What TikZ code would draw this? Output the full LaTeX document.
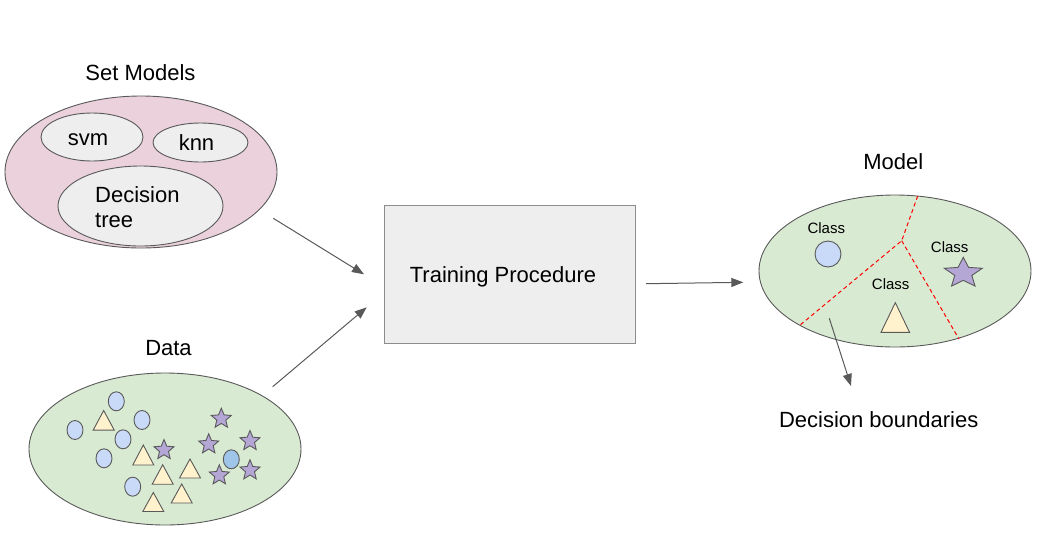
\documentclass[tikz,border=0pt]{standalone}
\usepackage{fontspec}
\setmainfont{Liberation Sans}
\usetikzlibrary{shapes.geometric,arrows.meta}
\definecolor{outl}{HTML}{595959}
\definecolor{pinkf}{HTML}{EAD1DC}
\definecolor{greenf}{HTML}{D9EAD3}
\definecolor{grayf}{HTML}{EEEEEE}
\definecolor{bluef}{HTML}{C9DAF8}
\definecolor{blued}{HTML}{9FC5E8}
\definecolor{yellowf}{HTML}{FFF2CC}
\definecolor{purplef}{HTML}{B4A7D6}
\definecolor{arrowc}{HTML}{595959}
\newcommand{\mytri}[4]{% x y halfwidth height (x,y = bbox center)
  \draw[tristyle] (#1,#2) ++(0,-#4/2) -- ++(#3,#4) -- ++(-2*#3,0) -- cycle;}
\newcommand{\mystar}[4]{% x y Rx Ry
  \draw[starstyle] plot[samples at={0,...,9}, variable=\k]
    ({#1+ifthenelse(mod(\k,2)==0,1,0.45)*#3*cos(90+36*\k)},
     {#2-ifthenelse(mod(\k,2)==0,1,0.45)*#4*sin(90+36*\k)}) -- cycle;}
\newcommand{\mycirc}[3]{\draw[circstyle,fill=#3] (#1,#2) ellipse [x radius=8, y radius=9.5];}
\begin{document}
\begin{tikzpicture}[x=1pt,y=-1pt,
  bigell/.style={ellipse, draw=outl, line width=0.9pt, inner sep=0pt},
  lbl/.style={font=\fontsize{22}{25}\selectfont, text=black, inner sep=0pt},
  blbl/.style={lbl, anchor=base},
  small/.style={font=\fontsize{15}{17}\selectfont, text=black, inner sep=0pt, anchor=base},
  tristyle/.style={draw=outl, fill=yellowf, line width=0.9pt, line join=miter},
  starstyle/.style={draw=outl, fill=purplef, line width=0.9pt},
  circstyle/.style={draw=outl, line width=0.9pt},
  arr/.style={draw=arrowc, line width=1pt, -{Triangle[length=12pt,width=9pt]}},
  bound/.style={draw=red, line width=1pt, dash pattern=on 4pt off 3pt}]
\useasboundingbox (0,0) rectangle (1061,542);

% Set Models
\node[blbl] (setlbl) at (140.5,80.5) {Set Models};
\node[bigell, fill=pinkf, minimum width=272pt, minimum height=152pt] (setm) at (141,172) {};
\node[bigell, fill=grayf, minimum width=102pt, minimum height=48pt] (svm) at (92,137) {};
\node[bigell, fill=grayf, minimum width=95pt, minimum height=39pt] (knn) at (200.5,142.5) {};
\node[bigell, fill=grayf, minimum width=165pt, minimum height=80pt] (dtree) at (140.5,206) {};
\node[blbl] (svmt) at (88,145) {svm};
\node[blbl] (knnt) at (196.5,150) {knn};
\node[lbl, align=left, anchor=west] (dtreet) at (95,207) {Decision\\tree};

% Data
\node[blbl] (datalbl) at (168.5,355.7) {Data};
\node[bigell, fill=greenf, minimum width=272pt, minimum height=152pt] (data) at (165,449) {};
\mycirc{116.3}{401.3}{bluef}
\mycirc{75}{430}{bluef}
\mycirc{142}{420}{bluef}
\mycirc{123}{439.3}{bluef}
\mycirc{104}{458.3}{bluef}
\mycirc{132.7}{486.7}{bluef}
\mycirc{231.3}{459.3}{blued}
\mytri{103.7}{420.3}{10.5}{19.5}
\mytri{143.3}{455}{10.5}{20}
\mytri{162.7}{474.5}{10.5}{19.5}
\mytri{190}{468.5}{10.5}{19}
\mytri{181.7}{493.5}{10.5}{19}
\mytri{153.3}{502}{10.5}{19}
\mystar{164}{450}{10.5}{10.5}
\mystar{221.3}{418.7}{10.5}{10.5}
\mystar{208.7}{444.3}{10.5}{10.5}
\mystar{250}{441}{10.5}{10.5}
\mystar{219.3}{475.3}{10.5}{10.5}
\mystar{250}{470.3}{10.5}{10.5}

% Training
\node[draw=gray!90, fill=grayf, line width=1pt, minimum width=251pt, minimum height=138pt, inner sep=0pt] (train) at (509.5,274) {};
\node[blbl] (traint) at (503,282.3) {Training Procedure};

% Model
\node[blbl] (modellbl) at (893.3,169.3) {Model};
\node[bigell, fill=greenf, minimum width=272pt, minimum height=152pt] (model) at (895,271) {};
\coordinate (b0) at (917.7,196);
\coordinate (bc) at (901.7,240.7);
\coordinate (b1) at (799.3,325.7);
\coordinate (b2) at (959,339);
\draw[bound] (b0) -- (bc) -- (b1);
\draw[bound] (bc) -- (b2);
\node[small] (c1) at (826.3,233.3) {Class};
\node[small] (c2) at (949.7,252.3) {Class};
\node[small] (c3) at (890.7,289.3) {Class};
\draw[circstyle, fill=bluef] (828,254) circle [radius=13];
\mytri{895.3}{317.5}{14.3}{29.7}
\mystar{963.3}{273.2}{20}{15.9}

% Arrows
\coordinate (a1s) at (273.3,218.3);
\coordinate (a1e) at (364,274.3);
\coordinate (a2s) at (272.7,386.7);
\coordinate (a2e) at (366.7,307.3);
\coordinate (a3s) at (646,283.7);
\coordinate (a3e) at (743.3,282.3);
\coordinate (a4s) at (829.3,318.3);
\coordinate (a4e) at (851,386);
\draw[arr] (a1s) -- (a1e);
\draw[arr] (a2s) -- (a2e);
\draw[arr] (a3s) -- (a3e);
\draw[arr] (a4s) -- (a4e);
\node[blbl] (dbl) at (878.7,427.7) {Decision boundaries};
\end{tikzpicture}
\end{document}
